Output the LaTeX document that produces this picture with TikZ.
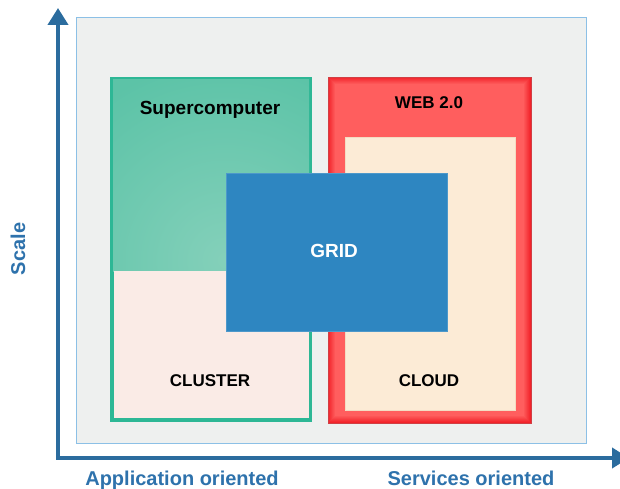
\documentclass[tikz,border=0pt]{standalone}
\usepackage{fontspec}
\setmainfont{Liberation Sans}
\usepackage{tikz}
\usetikzlibrary{arrows.meta,positioning}

\definecolor{axisblue}{HTML}{2B6C9E}
\definecolor{labelblue}{HTML}{2E72AC}
\definecolor{panelgray}{HTML}{EEF0EF}
\definecolor{panelline}{HTML}{8CC0E6}
\definecolor{supedge}{HTML}{2DB795}
\definecolor{supdark}{HTML}{5CC3A7}
\definecolor{suplight}{HTML}{84D0BA}
\definecolor{clusterpink}{HTML}{FAEBE6}
\definecolor{webred}{HTML}{F2232A}
\definecolor{webfill}{HTML}{FF5F5F}
\definecolor{cloudcream}{HTML}{FCEBD6}
\definecolor{cloudedge}{HTML}{F3DCC3}
\definecolor{gridblue}{HTML}{2E86C1}

\begin{document}
\begin{tikzpicture}[x=1pt,y=-1pt,>={Triangle[width=20pt,length=17pt]},
                    box/.style={rectangle,inner sep=0pt,outer sep=0pt},
                    boxtext/.style={font=\fontsize{17pt}{20pt}\selectfont\bfseries,text=black,anchor=base},
                    axistext/.style={font=\fontsize{20pt}{24pt}\selectfont\bfseries,text=labelblue,anchor=base},
                    axis/.style={draw=axisblue,line width=4pt,line join=miter}]

\useasboundingbox (0,0) rectangle (620,489);

        % panel behind everything
        \node[box,fill=panelgray,draw=panelline,line width=1pt,minimum width=510pt,minimum height=425pt] (panel) at (331,230.5) {};

        % supercomputer / cluster
        \node[box,fill=supedge,minimum width=202pt,minimum height=345pt]          (super)   at (211,249.5) {};
        \begin{scope}
            \clip (113,80) rectangle (309,271);
            \shade[inner color=suplight,outer color=supdark] (25,60) rectangle (425,460);
        \end{scope}
        \node[box,fill=clusterpink,minimum width=195pt,minimum height=147pt]     (cluster) at (211.5,344.5) {};

        % web 2.0 / cloud
        \node[box,fill=webred,draw=webred!70!gray,line width=0.6pt,minimum width=203pt,minimum height=346pt] (web) at (429.5,250) {};
        \foreach \i in {1,...,7}
            \fill[webred!\the\numexpr100-\i*14\relax!webfill] (328+\i,77+\i) rectangle (531-\i,423-\i);
        \node[box,fill=cloudcream,draw=cloudedge,line width=1.5pt,minimum width=170pt,minimum height=273pt] (cloud) at (430.5,274) {};

        % grid on top
        \node[box,fill=gridblue,draw=gridblue!85!white,line width=0.6pt,minimum width=221pt,minimum height=158pt] (grid) at (336.5,252) {};

        % box labels
        \node[boxtext,font=\fontsize{19pt}{22pt}\selectfont\bfseries] (suplabel)   at (210,115) {Supercomputer};
        \node[boxtext]                                               (weblabel)   at (429,109) {WEB 2.0};
        \node[boxtext,font=\fontsize{19pt}{22pt}\selectfont\bfseries,text=white] (gridlabel) at (334,257) {GRID};
        \node[boxtext]                                               (clustlabel) at (210,386) {CLUSTER};
        \node[boxtext]                                               (cloudlabel) at (429,386) {CLOUD};

        % axes
        \coordinate (origin) at (58,458);
        \coordinate (ytip)   at (58,8);
        \coordinate (xtip)   at (629,458);
        \draw[axis,<->] (ytip) -- (origin) -- (xtip);

        \node[axistext,rotate=90]  (scale)   at (25,249)  {Scale};
        \node[axistext]            (applab)  at (182,485) {Application oriented};
        \node[axistext]            (servlab) at (471,485) {Services oriented};

\end{tikzpicture}
\end{document}
